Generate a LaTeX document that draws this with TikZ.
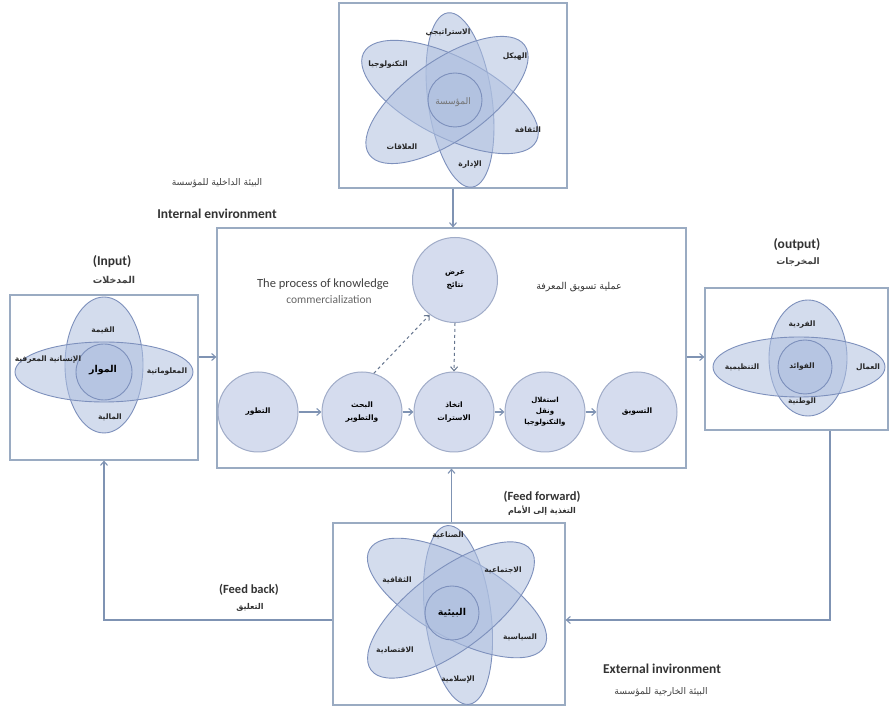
\documentclass[tikz,border=0pt]{standalone}
\usepackage{fontspec}
\setmainfont{Carlito}
\newfontfamily\arabicfont[Script=Arabic]{DejaVu Sans}
\TeXXeTstate=1
\usetikzlibrary{arrows.meta}
\newcommand{\artxt}[1]{{\arabicfont\beginR #1\endR}}
\definecolor{boxc}{HTML}{9AABC2}
\definecolor{arrc}{HTML}{7F93B3}
\definecolor{petalfill}{HTML}{AFC0E0}
\definecolor{petaldraw}{HTML}{7D90BC}
\definecolor{circfill}{HTML}{D5DCEE}
\definecolor{circdraw}{HTML}{A0ACC8}
\tikzset{
  frame/.style={draw=boxc, line width=1.2pt, fill=none, inner sep=0pt},
  arr/.style={draw=arrc, line width=1.1pt, -{Straight Barb[length=4pt,width=7pt]}},
  darr/.style={draw=arrc!80!black, line width=1pt, dashed, -{Straight Barb[length=4pt,width=7pt]}},
  petal/.style={draw=petaldraw, line width=0.9pt, fill=petalfill, fill opacity=0.55},
  stage/.style={circle, draw=circdraw, line width=1pt, fill=circfill, minimum size=80pt, inner sep=0pt, align=center, font=\fontsize{7.5}{13}\selectfont\bfseries},
  lbl/.style={font=\fontsize{7.5}{9}\selectfont\bfseries, text=black!85},
  eng/.style={font=\fontsize{13.5}{15}\selectfont\bfseries, text=black!80},
  feng/.style={font=\fontsize{12.5}{14}\selectfont\bfseries, text=black!80},
  arsub/.style={font=\fontsize{9.2}{11}\selectfont, text=black!75},
}
\begin{document}
\begin{tikzpicture}[x=1pt,y=1pt]
\useasboundingbox (0,0) rectangle (894,711);
\fill[white] (0,0) rectangle (894,711);

% ---------- boxes ----------
\node[frame, minimum width=228pt, minimum height=185pt] (topbox) at (453,615.5) {};
\node[frame, minimum width=469pt, minimum height=240pt] (cbox) at (451.5,363) {};
\node[frame, minimum width=188pt, minimum height=165pt] (lbox) at (104,333.5) {};
\node[frame, minimum width=183pt, minimum height=142pt] (rbox) at (796.5,352) {};
\node[frame, minimum width=232pt, minimum height=182pt] (bbox) at (449,97) {};

% ---------- top flower ----------
\draw[petal] (460,611) ellipse [x radius=88, y radius=32, rotate=98];
\draw[petal] (450,614) ellipse [x radius=97, y radius=40, rotate=-27];
\draw[petal] (447,611) ellipse [x radius=95, y radius=40, rotate=35];
\draw[petal] (455,611) circle [radius=27];
\node[lbl] (t1) at (448,678) {\artxt{الاستراتيجي}};
\node[lbl] (t2) at (515,654) {\artxt{الهيكل}};
\node[lbl] (t3) at (388,646) {\artxt{التكنولوجيا}};
\node[font=\fontsize{9}{10}\selectfont, text=black!55] (t4) at (453,609) {\artxt{المؤسسة}};
\node[lbl] (t5) at (528,581) {\artxt{الثقافة}};
\node[lbl] (t6) at (402,564) {\artxt{العلاقات}};
\node[lbl] (t7) at (470,546) {\artxt{الإدارة}};

% ---------- left flower ----------
\draw[petal] (104,346) ellipse [x radius=39, y radius=68];
\draw[petal] (104,339) ellipse [x radius=89, y radius=30];
\draw[petal] (104,339) circle [radius=28];
\node[lbl] (l1) at (103,381) {\artxt{القيمة}};
\node[lbl] (l2) at (48,351) {\artxt{الإنسانية المعرفية}};
\node[font=\fontsize{9.5}{11}\selectfont\bfseries] (l3) at (103,341) {\artxt{الموار}};
\node[lbl] (l4) at (167,339) {\artxt{المعلوماتية}};
\node[lbl] (l5) at (110,294) {\artxt{المالية}};
\node[eng] (inp) at (112,449) {(Input)};
\node[arsub, font=\fontsize{9.5}{11}\selectfont\bfseries] (inpar) at (114,431) {\artxt{المدخلات}};

% ---------- right flower ----------
\draw[petal] (808,353) ellipse [x radius=39, y radius=58];
\draw[petal] (799,344) ellipse [x radius=86, y radius=30];
\draw[petal] (805,344) circle [radius=27];
\node[lbl] (r1) at (802,386) {\artxt{الفردية}};
\node[lbl] (r2) at (742,344) {\artxt{التنظيمية}};
\node[lbl] (r3) at (802,344) {\artxt{الفوائد}};
\node[lbl] (r4) at (868,344) {\artxt{العمال}};
\node[lbl] (r5) at (802,309) {\artxt{الوطنية}};
\node[eng] (outp) at (797,466) {(output)};
\node[arsub, font=\fontsize{9}{11}\selectfont\bfseries] (outpar) at (798,449) {\artxt{المخرجات}};

% ---------- bottom flower ----------
\draw[petal] (458,96) ellipse [x radius=90, y radius=33, rotate=97];
\draw[petal] (457,113) ellipse [x radius=100, y radius=40, rotate=-29];
\draw[petal] (451,101) ellipse [x radius=100, y radius=40, rotate=37];
\draw[petal] (452,98) circle [radius=27];
\node[lbl] (b1) at (448,176) {\artxt{الصناعية}};
\node[lbl] (b2) at (503,141) {\artxt{الاجتماعية}};
\node[lbl] (b3) at (397,131) {\artxt{الثقافية}};
\node[font=\fontsize{9.5}{11}\selectfont\bfseries] (b4) at (452,98) {\artxt{البيئية}};
\node[lbl] (b5) at (520,74) {\artxt{السياسية}};
\node[lbl] (b6) at (395,61) {\artxt{الاقتصادية}};
\node[lbl] (b7) at (458,31) {\artxt{الإسلامية}};

% ---------- center stages ----------
\node[stage] (s1) at (258,299) {\artxt{التطور}};
\node[stage] (s2) at (362,299) {\artxt{البحث}\\\artxt{والتطوير}};
\node[stage] (s3) at (454,299) {\artxt{اتخاذ}\\\artxt{الاسترات}};
\node[stage, font=\fontsize{7}{11}\selectfont\bfseries] (s4) at (545,299) {\artxt{استغلال}\\\artxt{ونقل}\\\artxt{والتكنولوجيا}};
\node[stage] (s5) at (637,299) {\artxt{التسويق}};
\node[stage, minimum size=85pt] (st) at (455,431) {\artxt{عرض}\\\artxt{نتائج}};

\draw[arr] (s1) -- (s2);
\draw[arr] (s2) -- (s3);
\draw[arr] (s3) -- (s4);
\draw[arr] (s4) -- (s5);
\draw[darr] (s2.73) -- (st.234);
\draw[darr] (st.south) -- (s3.north);

\node[font=\fontsize{12.5}{14}\selectfont, text=black!75] (proc1) at (323,427) {The process of knowledge};
\node[font=\fontsize{11.5}{13}\selectfont, text=black!60] (proc2) at (329,411) {commercialization};
\node[arsub, font=\fontsize{9.5}{11}\selectfont, text=black!80] (procar) at (579,424) {\artxt{عملية تسويق المعرفة}};

% ---------- environment labels ----------
\node[arsub] (intar) at (217,528) {\artxt{البيئة الداخلية للمؤسسة}};
\node[eng] (inten) at (217,497) {Internal environment};
\node[eng] (exten) at (662,42) {External invironment};
\node[arsub] (extar) at (661,19) {\artxt{البيئة الخارجية للمؤسسة}};
\node[feng] (ff) at (542,214) {(Feed forward)};
\node[font=\fontsize{8}{9}\selectfont\bfseries, text=black!80] (ffar) at (542,200) {\artxt{التغذية إلى الأمام}};
\node[feng] (fb) at (249,121) {(Feed back)};
\node[font=\fontsize{8}{9}\selectfont\bfseries, text=black!80] (fbar) at (250,104) {\artxt{التعليق}};

% ---------- connectors ----------
\coordinate (hy) at (0,354);
\coordinate (fy) at (0,91);
\coordinate (rx) at (830,0);
\draw[arr] (topbox.south) -- (topbox.south |- cbox.north);
\draw[arr] (lbox.east |- hy) -- (cbox.west |- hy);
\draw[arr] (cbox.east |- hy) -- (rbox.west |- hy);
\draw[arr] (bbox.north -| cbox.south) -- (cbox.south);
\draw[arr] (bbox.west |- fy) -| (lbox.south);
\draw[arr] (rbox.south -| rx) |- (bbox.east |- fy);
\end{tikzpicture}
\end{document}
